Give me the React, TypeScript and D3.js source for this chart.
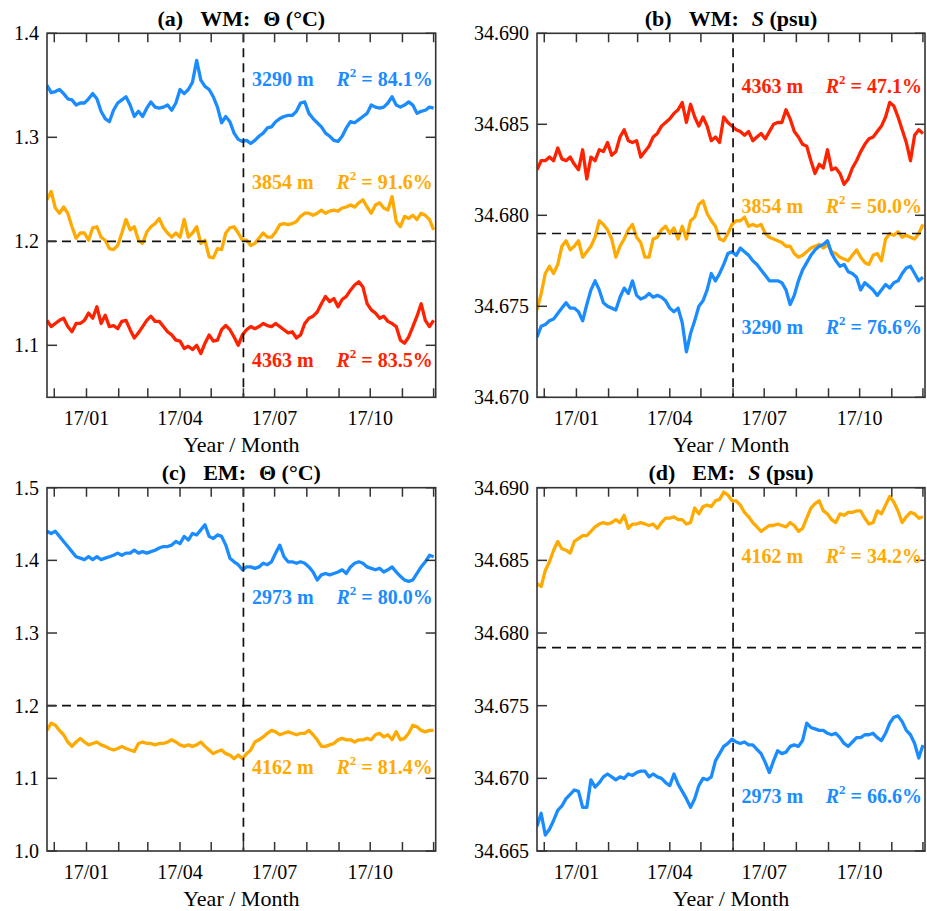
import * as d3 from "d3";

// sampled every 4 days starting 2016-11-24
const START = new Date(2016, 10, 24);
const STEP_DAYS = 4;

// (a) WM potential temperature (°C)
const wmThetaBlue = [
  1.350, 1.343, 1.344, 1.346, 1.342, 1.337, 1.336, 1.331, 1.333, 1.333,
  1.337, 1.342, 1.337, 1.325, 1.318, 1.315, 1.326, 1.333, 1.336, 1.339,
  1.331, 1.320, 1.325, 1.320, 1.328, 1.334, 1.329, 1.328, 1.329, 1.331,
  1.326, 1.333, 1.346, 1.342, 1.346, 1.353, 1.374, 1.355, 1.349, 1.346,
  1.339, 1.329, 1.314, 1.320, 1.315, 1.304, 1.298, 1.296, 1.297, 1.294,
  1.297, 1.301, 1.304, 1.309, 1.310, 1.315, 1.318, 1.320, 1.321, 1.321,
  1.325, 1.333, 1.334, 1.323, 1.318, 1.314, 1.310, 1.304, 1.301, 1.297,
  1.296, 1.301, 1.309, 1.315, 1.314, 1.317, 1.320, 1.323, 1.331, 1.329,
  1.328, 1.329, 1.333, 1.339, 1.331, 1.329, 1.331, 1.334, 1.331, 1.323,
  1.325, 1.326, 1.329, 1.328,
];
const wmThetaOrange = [
  1.240, 1.248, 1.232, 1.227, 1.233, 1.227, 1.214, 1.203, 1.208, 1.208,
  1.201, 1.213, 1.214, 1.204, 1.201, 1.193, 1.192, 1.196, 1.208, 1.221,
  1.211, 1.214, 1.201, 1.198, 1.209, 1.214, 1.217, 1.222, 1.213, 1.208,
  1.204, 1.208, 1.204, 1.221, 1.204, 1.208, 1.214, 1.198, 1.201, 1.185,
  1.184, 1.193, 1.192, 1.208, 1.213, 1.214, 1.208, 1.201, 1.201, 1.196,
  1.198, 1.203, 1.208, 1.204, 1.204, 1.209, 1.216, 1.217, 1.216, 1.217,
  1.219, 1.224, 1.227, 1.227, 1.225, 1.227, 1.230, 1.227, 1.229, 1.230,
  1.229, 1.232, 1.233, 1.235, 1.233, 1.237, 1.240, 1.233, 1.227, 1.235,
  1.237, 1.232, 1.230, 1.243, 1.219, 1.214, 1.224, 1.222, 1.225, 1.221,
  1.227, 1.225, 1.221, 1.211,
];
const wmThetaRed = [
  1.124, 1.118, 1.121, 1.124, 1.126, 1.118, 1.113, 1.121, 1.121, 1.124,
  1.131, 1.126, 1.137, 1.121, 1.129, 1.118, 1.119, 1.116, 1.123, 1.124,
  1.115, 1.107, 1.112, 1.118, 1.124, 1.128, 1.123, 1.123, 1.118, 1.113,
  1.110, 1.105, 1.104, 1.097, 1.099, 1.096, 1.100, 1.092, 1.102, 1.110,
  1.104, 1.105, 1.115, 1.119, 1.115, 1.108, 1.100, 1.110, 1.115, 1.118,
  1.116, 1.118, 1.121, 1.119, 1.118, 1.121, 1.118, 1.115, 1.112, 1.113,
  1.107, 1.110, 1.121, 1.126, 1.128, 1.132, 1.140, 1.147, 1.142, 1.145,
  1.137, 1.144, 1.147, 1.153, 1.158, 1.161, 1.156, 1.140, 1.134, 1.131,
  1.126, 1.128, 1.123, 1.121, 1.118, 1.105, 1.102, 1.108, 1.118, 1.128,
  1.140, 1.124, 1.118, 1.124,
];

// (b) WM salinity (psu)
const wmSalRed = [
  34.6825, 34.6830, 34.6830, 34.6832, 34.6830, 34.6837, 34.6831, 34.6830, 34.6832, 34.6828,
  34.6825, 34.6836, 34.6820, 34.6832, 34.6830, 34.6836, 34.6835, 34.6840, 34.6833, 34.6835,
  34.6843, 34.6847, 34.6841, 34.6840, 34.6841, 34.6832, 34.6835, 34.6838, 34.6843, 34.6845,
  34.6849, 34.6851, 34.6853, 34.6856, 34.6858, 34.6862, 34.6851, 34.6861, 34.6854, 34.6849,
  34.6854, 34.6849, 34.6841, 34.6843, 34.6840, 34.6854, 34.6851, 34.6849, 34.6847, 34.6846,
  34.6844, 34.6846, 34.6841, 34.6843, 34.6845, 34.6842, 34.6846, 34.6850, 34.6851, 34.6851,
  34.6858, 34.6853, 34.6846, 34.6843, 34.6839, 34.6838, 34.6830, 34.6823, 34.6828, 34.6826,
  34.6836, 34.6825, 34.6826, 34.6823, 34.6817, 34.6820, 34.6826, 34.6830, 34.6835, 34.6839,
  34.6842, 34.6843, 34.6846, 34.6849, 34.6854, 34.6862, 34.6860, 34.6854, 34.6847, 34.6840,
  34.6830, 34.6844, 34.6847, 34.6845,
];
const wmSalOrange = [
  34.6748, 34.6757, 34.6768, 34.6772, 34.6768, 34.6773, 34.6783, 34.6786, 34.6781, 34.6783,
  34.6786, 34.6777, 34.6780, 34.6783, 34.6788, 34.6797, 34.6795, 34.6792, 34.6787, 34.6777,
  34.6783, 34.6787, 34.6792, 34.6795, 34.6788, 34.6785, 34.6777, 34.6777, 34.6787, 34.6788,
  34.6792, 34.6794, 34.6790, 34.6793, 34.6787, 34.6794, 34.6787, 34.6797, 34.6799, 34.6806,
  34.6808, 34.6801, 34.6797, 34.6794, 34.6787, 34.6786, 34.6790, 34.6795, 34.6797, 34.6797,
  34.6799, 34.6794, 34.6795, 34.6794, 34.6795, 34.6790, 34.6788, 34.6787, 34.6786, 34.6785,
  34.6783, 34.6783, 34.6779, 34.6777, 34.6778, 34.6780, 34.6782, 34.6783, 34.6784, 34.6782,
  34.6784, 34.6780, 34.6779, 34.6777, 34.6776, 34.6775, 34.6778, 34.6781, 34.6777, 34.6774,
  34.6773, 34.6778, 34.6779, 34.6775, 34.6787, 34.6790, 34.6789, 34.6791, 34.6788, 34.6789,
  34.6788, 34.6787, 34.6790, 34.6795,
];
const wmSalBlue = [
  34.6733, 34.6739, 34.6740, 34.6742, 34.6743, 34.6746, 34.6749, 34.6752, 34.6749, 34.6749,
  34.6747, 34.6742, 34.6751, 34.6759, 34.6764, 34.6759, 34.6752, 34.6750, 34.6749, 34.6748,
  34.6755, 34.6760, 34.6757, 34.6764, 34.6756, 34.6754, 34.6755, 34.6757, 34.6755, 34.6756,
  34.6755, 34.6753, 34.6749, 34.6747, 34.6749, 34.6741, 34.6725, 34.6735, 34.6742, 34.6750,
  34.6753, 34.6759, 34.6768, 34.6764, 34.6768, 34.6773, 34.6779, 34.6780, 34.6778, 34.6782,
  34.6780, 34.6778, 34.6775, 34.6773, 34.6770, 34.6767, 34.6764, 34.6764, 34.6764, 34.6763,
  34.6759, 34.6751, 34.6756, 34.6764, 34.6770, 34.6774, 34.6778, 34.6781, 34.6783, 34.6784,
  34.6786, 34.6779, 34.6775, 34.6772, 34.6773, 34.6769, 34.6768, 34.6766, 34.6759, 34.6763,
  34.6761, 34.6759, 34.6756, 34.6759, 34.6762, 34.6760, 34.6763, 34.6764, 34.6768, 34.6771,
  34.6772, 34.6768, 34.6764, 34.6766,
];

// (c) EM potential temperature (°C)
const emThetaBlue = [
  1.440, 1.437, 1.440, 1.433, 1.426, 1.419, 1.412, 1.405, 1.403, 1.401,
  1.405, 1.401, 1.405, 1.401, 1.403, 1.405, 1.407, 1.410, 1.407, 1.410,
  1.410, 1.414, 1.410, 1.412, 1.410, 1.412, 1.414, 1.417, 1.419, 1.419,
  1.421, 1.426, 1.423, 1.433, 1.428, 1.437, 1.435, 1.442, 1.449, 1.433,
  1.430, 1.435, 1.433, 1.421, 1.403, 1.398, 1.394, 1.387, 1.391, 1.391,
  1.389, 1.391, 1.396, 1.394, 1.398, 1.410, 1.421, 1.405, 1.398, 1.398,
  1.396, 1.398, 1.396, 1.391, 1.384, 1.373, 1.380, 1.382, 1.380, 1.382,
  1.384, 1.387, 1.382, 1.391, 1.396, 1.398, 1.396, 1.391, 1.389, 1.387,
  1.389, 1.384, 1.387, 1.391, 1.384, 1.378, 1.373, 1.371, 1.373, 1.382,
  1.391, 1.398, 1.407, 1.405,
];
const emThetaOrange = [
  1.166, 1.176, 1.173, 1.166, 1.160, 1.150, 1.144, 1.150, 1.155, 1.150,
  1.146, 1.148, 1.150, 1.146, 1.144, 1.141, 1.139, 1.141, 1.144, 1.141,
  1.139, 1.137, 1.148, 1.150, 1.148, 1.148, 1.146, 1.148, 1.148, 1.150,
  1.153, 1.150, 1.146, 1.144, 1.146, 1.144, 1.146, 1.150, 1.144, 1.139,
  1.134, 1.137, 1.139, 1.134, 1.132, 1.127, 1.132, 1.127, 1.134, 1.139,
  1.150, 1.153, 1.157, 1.162, 1.166, 1.164, 1.160, 1.162, 1.164, 1.162,
  1.160, 1.162, 1.162, 1.166, 1.160, 1.153, 1.144, 1.144, 1.146, 1.148,
  1.153, 1.155, 1.153, 1.153, 1.150, 1.153, 1.153, 1.155, 1.153, 1.160,
  1.162, 1.157, 1.160, 1.153, 1.164, 1.153, 1.155, 1.162, 1.173, 1.171,
  1.166, 1.164, 1.166, 1.166,
];

// (d) EM salinity (psu)
const emSalOrange = [
  34.6834, 34.6832, 34.6843, 34.6849, 34.6857, 34.6863, 34.6858, 34.6857, 34.6855, 34.6863,
  34.6865, 34.6867, 34.6867, 34.6870, 34.6873, 34.6875, 34.6876, 34.6875, 34.6876, 34.6878,
  34.6876, 34.6881, 34.6872, 34.6875, 34.6875, 34.6876, 34.6875, 34.6874, 34.6875, 34.6872,
  34.6876, 34.6879, 34.6879, 34.6880, 34.6878, 34.6878, 34.6875, 34.6876, 34.6886, 34.6882,
  34.6887, 34.6888, 34.6887, 34.6891, 34.6892, 34.6897, 34.6895, 34.6891, 34.6891, 34.6888,
  34.6883, 34.6880, 34.6876, 34.6873, 34.6870, 34.6872, 34.6874, 34.6874, 34.6875, 34.6874,
  34.6873, 34.6876, 34.6874, 34.6870, 34.6872, 34.6879, 34.6886, 34.6889, 34.6891, 34.6884,
  34.6882, 34.6878, 34.6876, 34.6882, 34.6881, 34.6883, 34.6883, 34.6884, 34.6884, 34.6879,
  34.6875, 34.6876, 34.6884, 34.6882, 34.6888, 34.6894, 34.6890, 34.6884, 34.6876, 34.6880,
  34.6883, 34.6882, 34.6879, 34.6880,
];
const emSalBlue = [
  34.6667, 34.6676, 34.6661, 34.6665, 34.6671, 34.6678, 34.6681, 34.6686, 34.6689, 34.6692,
  34.6691, 34.6680, 34.6680, 34.6699, 34.6694, 34.6697, 34.6701, 34.6703, 34.6701, 34.6699,
  34.6701, 34.6700, 34.6703, 34.6702, 34.6704, 34.6705, 34.6705, 34.6701, 34.6703, 34.6701,
  34.6700, 34.6697, 34.6695, 34.6703, 34.6696, 34.6691, 34.6686, 34.6680, 34.6686, 34.6695,
  34.6700, 34.6699, 34.6701, 34.6712, 34.6717, 34.6722, 34.6724, 34.6727, 34.6725, 34.6724,
  34.6725, 34.6723, 34.6723, 34.6720, 34.6717, 34.6711, 34.6704, 34.6712, 34.6719, 34.6717,
  34.6718, 34.6722, 34.6723, 34.6722, 34.6726, 34.6738, 34.6735, 34.6734, 34.6733, 34.6733,
  34.6731, 34.6730, 34.6731, 34.6728, 34.6724, 34.6722, 34.6725, 34.6728, 34.6728, 34.6730,
  34.6730, 34.6731, 34.6728, 34.6726, 34.6731, 34.6738, 34.6742, 34.6743, 34.6739, 34.6733,
  34.6730, 34.6724, 34.6714, 34.6723,
];

const BLUE = "#1a8cff";
const ORANGE = "#ffaa00";
const RED = "#ff2200";
const FONT = '"Liberation Serif", "Times New Roman", Times, serif';

const X_START = new Date(2016, 10, 24);
const X_END = new Date(2017, 11, 3);
const SPLIT_DATE = new Date(2017, 5, 1);
const monthTicks = d3.timeMonth.range(new Date(2016, 11, 1), new Date(2017, 11, 2));
const labelMonths = [0, 3, 6, 9];

const panels = [
  {
    key: "a", left: 47, top: 33.3, width: 388.7, height: 364,
    region: "WM", variable: "theta",
    yDomain: [1.05, 1.4], yTicks: [1.1, 1.2, 1.3, 1.4], fmt: ".1f", refY: 1.2,
    series: [
      { values: wmThetaBlue, color: BLUE, depth: "3290 m", r2: "84.1%", labelAt: 1.349 },
      { values: wmThetaOrange, color: ORANGE, depth: "3854 m", r2: "91.6%", labelAt: 1.250 },
      { values: wmThetaRed, color: RED, depth: "4363 m", r2: "83.5%", labelAt: 1.079 },
    ],
  },
  {
    key: "b", left: 537, top: 33.3, width: 388, height: 364,
    region: "WM", variable: "S",
    yDomain: [34.67, 34.69], yTicks: [34.67, 34.675, 34.68, 34.685, 34.69], fmt: ".3f", refY: 34.679,
    series: [
      { values: wmSalRed, color: RED, depth: "4363 m", r2: "47.1%", labelAt: 34.6867 },
      { values: wmSalOrange, color: ORANGE, depth: "3854 m", r2: "50.0%", labelAt: 34.6801 },
      { values: wmSalBlue, color: BLUE, depth: "3290 m", r2: "76.6%", labelAt: 34.6735 },
    ],
  },
  {
    key: "c", left: 47, top: 487.7, width: 388.7, height: 363.3,
    region: "EM", variable: "theta",
    yDomain: [1.0, 1.5], yTicks: [1.0, 1.1, 1.2, 1.3, 1.4, 1.5], fmt: ".1f", refY: 1.2,
    series: [
      { values: emThetaBlue, color: BLUE, depth: "2973 m", r2: "80.0%", labelAt: 1.340 },
      { values: emThetaOrange, color: ORANGE, depth: "4162 m", r2: "81.4%", labelAt: 1.106 },
    ],
  },
  {
    key: "d", left: 537, top: 487.7, width: 388, height: 363.3,
    region: "EM", variable: "S",
    yDomain: [34.665, 34.69], yTicks: [34.665, 34.67, 34.675, 34.68, 34.685, 34.69], fmt: ".3f", refY: 34.679,
    series: [
      { values: emSalOrange, color: ORANGE, depth: "4162 m", r2: "34.2%", labelAt: 34.6848 },
      { values: emSalBlue, color: BLUE, depth: "2973 m", r2: "66.6%", labelAt: 34.6683 },
    ],
  },
];

function Panel({ p }: { p: any }) {
  const x = d3.scaleTime().domain([X_START, X_END]).range([p.left, p.left + p.width]);
  const y = d3.scaleLinear().domain(p.yDomain).range([p.top + p.height, p.top]);
  const bottom = p.top + p.height;
  const right = p.left + p.width;
  const fmt = d3.format(p.fmt);
  const line = d3
    .line<number>()
    .x((_, i) => x(d3.timeDay.offset(START, i * STEP_DAYS)))
    .y((d) => y(d));
  const splitX = x(SPLIT_DATE);
  const clipId = `clip-${p.key}`;

  return (
    <g>
      <defs>
        <clipPath id={clipId}>
          <rect x={p.left} y={p.top} width={p.width} height={p.height} />
        </clipPath>
      </defs>

      {/* title */}
      <text x={p.left + p.width / 2} y={p.top - 7.5} textAnchor="middle" fontSize={22} fontWeight="bold">
        <tspan>({p.key})</tspan>
        <tspan dx={17}>{p.region}:</tspan>
        {p.variable === "theta" ? (
          <tspan dx={13}>Θ (°C)</tspan>
        ) : (
          <>
            <tspan dx={13} fontStyle="italic">S</tspan>
            <tspan> (psu)</tspan>
          </>
        )}
      </text>

      {/* series */}
      <g clipPath={`url(#${clipId})`}>
        {p.series.map((s: any, i: number) => (
          <path key={i} d={line(s.values) ?? ""} fill="none" stroke={s.color} strokeWidth={3.3} strokeLinejoin="round" />
        ))}
      </g>

      {/* reference lines */}
      <line x1={p.left} x2={right} y1={y(p.refY)} y2={y(p.refY)} stroke="#111" strokeWidth={1.7} strokeDasharray="9,6" />
      <line x1={splitX} x2={splitX} y1={p.top} y2={bottom} stroke="#111" strokeWidth={1.7} strokeDasharray="9,6" />

      {/* ticks */}
      {monthTicks.map((m, i) => (
        <g key={i}>
          <line x1={x(m)} x2={x(m)} y1={bottom} y2={bottom - 9} stroke="#333" strokeWidth={1.5} />
          <line x1={x(m)} x2={x(m)} y1={p.top} y2={p.top + 9} stroke="#333" strokeWidth={1.5} />
          {labelMonths.includes(m.getMonth()) && m.getFullYear() === 2017 ? (
            <text x={x(m)} y={bottom + 28} textAnchor="middle" fontSize={20}>
              {d3.timeFormat("%y/%m")(m)}
            </text>
          ) : null}
        </g>
      ))}
      {p.yTicks.map((t: number, i: number) => (
        <g key={i}>
          <line x1={p.left} x2={p.left + 10} y1={y(t)} y2={y(t)} stroke="#333" strokeWidth={1.5} />
          <line x1={right} x2={right - 10} y1={y(t)} y2={y(t)} stroke="#333" strokeWidth={1.5} />
          <text x={p.left - 8} y={y(t)} dy="0.35em" textAnchor="end" fontSize={20}>
            {fmt(t)}
          </text>
        </g>
      ))}

      <rect x={p.left} y={p.top} width={p.width} height={p.height} fill="none" stroke="#333" strokeWidth={1.6} />

      <text x={p.left + p.width / 2} y={bottom + 55} textAnchor="middle" fontSize={22}>
        Year / Month
      </text>

      {/* depth labels */}
      {p.series.map((s: any, i: number) => (
        <g key={i} fill={s.color} fontWeight="bold" fontSize={20}>
          <text x={splitX + 8.5} y={y(s.labelAt)}>{s.depth}</text>
          <text x={right - 3} y={y(s.labelAt)} textAnchor="end">
            <tspan fontStyle="italic">R</tspan>
            <tspan fontSize={13} dy={-9}>2</tspan>
            <tspan dy={9}> = {s.r2}</tspan>
          </text>
        </g>
      ))}
    </g>
  );
}

export default function App() {
  return (
    <svg
      width={927}
      height={911}
      style={{ position: "absolute", left: 0, top: 0, background: "#fff" }}
      fontFamily={FONT}
    >
      <rect width={927} height={911} fill="#fff" />
      {panels.map((p) => (
        <Panel key={p.key} p={p} />
      ))}
    </svg>
  );
}
